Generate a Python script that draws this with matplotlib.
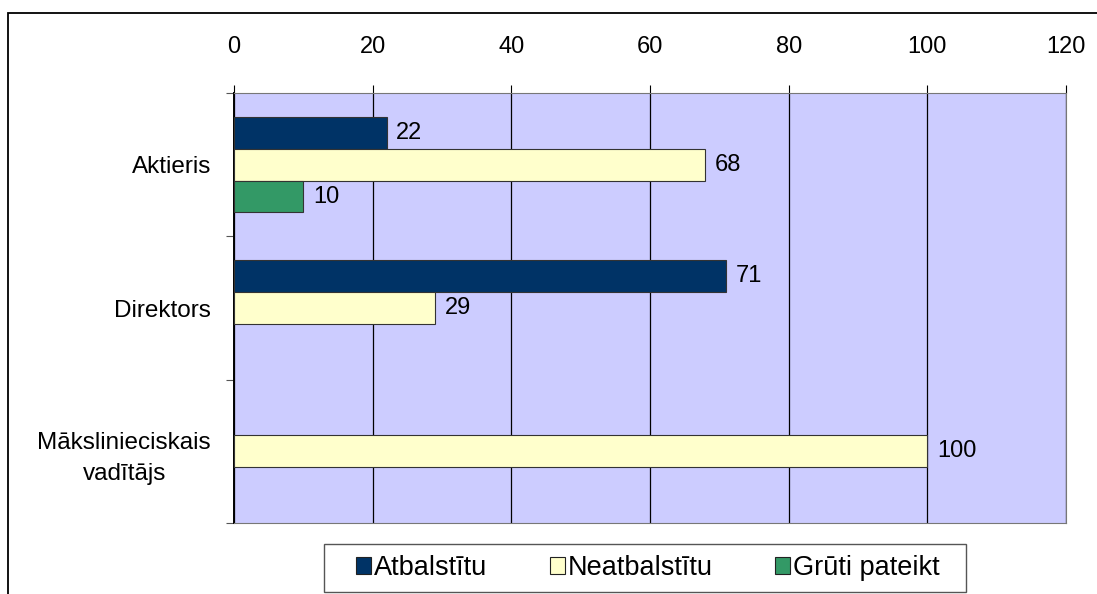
import numpy as np
import matplotlib.pyplot as plt
from matplotlib.patches import Rectangle, Patch

plt.rcParams['font.family'] = ['Liberation Sans', 'DejaVu Sans']

# dati
kategorijas = ['Aktieris', 'Direktors', 'Mākslinieciskais\nvadītājs']
atbalstitu = [22, 71, 0]
neatbalstitu = [68, 29, 100]
gruti_pateikt = [10, 0, 0]
serijas = ['Atbalstītu', 'Neatbalstītu', 'Grūti pateikt']
krasas = ['#003366', '#FFFFCC', '#339966']
x_ticks = [0, 20, 40, 60, 80, 100, 120]

W, H = 1097, 594
fig = plt.figure(figsize=(W / 100, H / 100), dpi=100)
ax = fig.add_axes([234 / W, 1 - 523 / H, (1066 - 234) / W, (523 - 93) / H])
ax.set_facecolor('#CCCCFF')

# ramis ap visu diagrammu
fig.patches.append(Rectangle((8 / W, -0.1), 1.2, 1 - 13 / H + 0.1,
                             transform=fig.transFigure, fill=False,
                             edgecolor='black', linewidth=1.3))

augstums = 1 / 4.5
pos = np.arange(len(kategorijas))
for i, (vert, kr) in enumerate(zip([atbalstitu, neatbalstitu, gruti_pateikt], krasas)):
    y = pos + (i - 1) * augstums
    for yy, v in zip(y, vert):
        if v == 0:
            continue
        ax.barh(yy, v, height=augstums, color=kr, edgecolor='#333333', linewidth=0.8, zorder=3)
        ax.annotate(str(v), (v, yy), xytext=(7, 0), textcoords='offset points',
                    va='center', ha='left', fontsize=17, zorder=4)

ax.set_xlim(0, 120)
ax.set_ylim(2.5, -0.5)
ax.set_xticks(x_ticks)
ax.xaxis.tick_top()
ax.tick_params(axis='x', which='major', length=6, pad=19, labelsize=17, color='black')
ax.grid(axis='x', color='black', linewidth=0.9, zorder=1)

ax.set_yticks([-0.5, 0.5, 1.5, 2.5])
ax.set_yticklabels([])
ax.set_yticks(pos, minor=True)
ax.set_yticklabels(kategorijas, minor=True, fontsize=17.5, linespacing=1.55,
                   ha='right', multialignment='center')
ax.tick_params(axis='y', which='major', length=6, color='#555555')
ax.tick_params(axis='y', which='minor', length=0, pad=16.5)

for s in ['top', 'right', 'bottom']:
    ax.spines[s].set_color('#777777')
ax.spines['left'].set_color('black')
ax.spines['left'].set_linewidth(1.4)

# legenda
rokturi = [Patch(facecolor=kr, edgecolor='#222222', linewidth=0.8, label=nos)
           for nos, kr in zip(serijas, krasas)]
fig.legend(handles=rokturi, loc='center', bbox_to_anchor=(648 / W, 1 - 568 / H), ncol=3,
           fontsize=19.5, frameon=False, handlelength=0.55, handleheight=0.55,
           handletextpad=0.12, columnspacing=2.3, borderaxespad=0)
fig.patches.append(Rectangle((324 / W, 1 - 592 / H), (966 - 324) / W, 48 / H,
                             transform=fig.transFigure, fill=False,
                             edgecolor='#555555', linewidth=1.0))

fig.savefig('out.png', dpi=100)
